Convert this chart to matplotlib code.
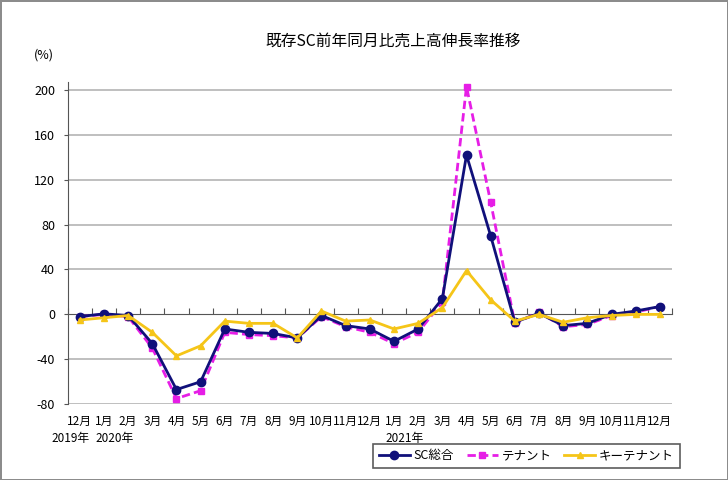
import numpy as np
import matplotlib
matplotlib.use("Agg")
import matplotlib.pyplot as plt
import matplotlib.transforms as mtransforms

plt.rcParams['font.family'] = ['Noto Sans CJK JP', 'DejaVu Sans']

# data
months = ["12月", "1月", "2月", "3月", "4月", "5月", "6月", "7月", "8月", "9月", "10月", "11月", "12月",
          "1月", "2月", "3月", "4月", "5月", "6月", "7月", "8月", "9月", "10月", "11月", "12月"]
sc_total = [-2, 0.5, -1, -26, -67, -60, -13, -16, -17, -21, -1, -10, -13,
            -24, -13, 14, 142, 70, -7, 1, -10, -8, 0, 3, 7]
tenant = [-2, 0, -2, -30, -75, -68, -16, -18, -19, -21, -2, -11, -16,
          -26, -16, 11, 203, 100, -8, 2, -11, -9, -1, 2, 7]
key_tenant = [-5, -3, -1, -16, -37, -28, -6, -8, -8, -21, 3, -6, -5,
              -13, -8, 6, 39, 13, -6, 0, -7, -3, -1, 0, 0]
year_labels = [(0, "2019年"), (1, "2020年"), (13, "2021年")]
yticks = [-80, -40, 0, 40, 80, 120, 160, 200]

fig = plt.figure(figsize=(7.28, 4.8), dpi=100, edgecolor="#8c8c8c", linewidth=2)
ax = fig.add_axes([0.093, 0.158, 0.830, 0.671])

x = np.arange(len(months))

ax.plot(x, sc_total, color="#10107a", lw=2, marker="o", ms=6, label="SC総合", zorder=4)
ax.plot(x, tenant, color="#e61ee6", lw=2, ls=(0, (3, 1.5)), marker="s", ms=4, label="テナント", zorder=3)
ax.plot(x, key_tenant, color="#f5c518", lw=2, marker="^", ms=4, label="キーテナント", zorder=5)

ax.set_xlim(-0.5, len(months) - 0.5)
ax.set_ylim(-80, 207)
ax.set_yticks(yticks)
ax.set_yticklabels([str(v) for v in yticks], fontsize=9)
for v in yticks:
    if v != 0:
        ax.axhline(v, color="#b4b4b4", lw=1.2, zorder=1)

# category axis crossing at zero
for s in ["top", "right"]:
    ax.spines[s].set_visible(False)
ax.spines["bottom"].set_position(("data", 0))
ax.spines["bottom"].set_color("#555555")
ax.spines["left"].set_color("#555555")
ax.set_xticks(np.arange(-0.5, len(months), 1))
ax.set_xticklabels([])
ax.tick_params(axis="x", direction="in", length=4, color="#555555")
ax.tick_params(axis="y", length=3, color="#555555", pad=6)

trans = mtransforms.blended_transform_factory(ax.transData, ax.transAxes)
for i, m in enumerate(months):
    ax.text(i, -0.032, m, transform=trans, ha="center", va="top", fontsize=8.5)
for i, yl in year_labels:
    ax.text(i + (0.45 if i > 0 else -0.4), -0.085, yl, transform=trans, ha="center", va="top", fontsize=8.5)

fig.text(0.54, 0.915, "既存SC前年同月比売上高伸長率推移", ha="center", va="center", fontsize=11.3)
fig.text(0.06, 0.885, "(%)", ha="center", va="center", fontsize=9)

leg = fig.legend(loc="center", bbox_to_anchor=(0.723, 0.05), ncol=3, fontsize=9,
                 frameon=True, fancybox=False, handlelength=2.5, columnspacing=1.0,
                 borderpad=0.45, handletextpad=0.3, borderaxespad=0)
leg.get_frame().set_edgecolor("#333333")
leg.get_frame().set_linewidth(1.2)

fig.savefig("out.png", dpi=100)
